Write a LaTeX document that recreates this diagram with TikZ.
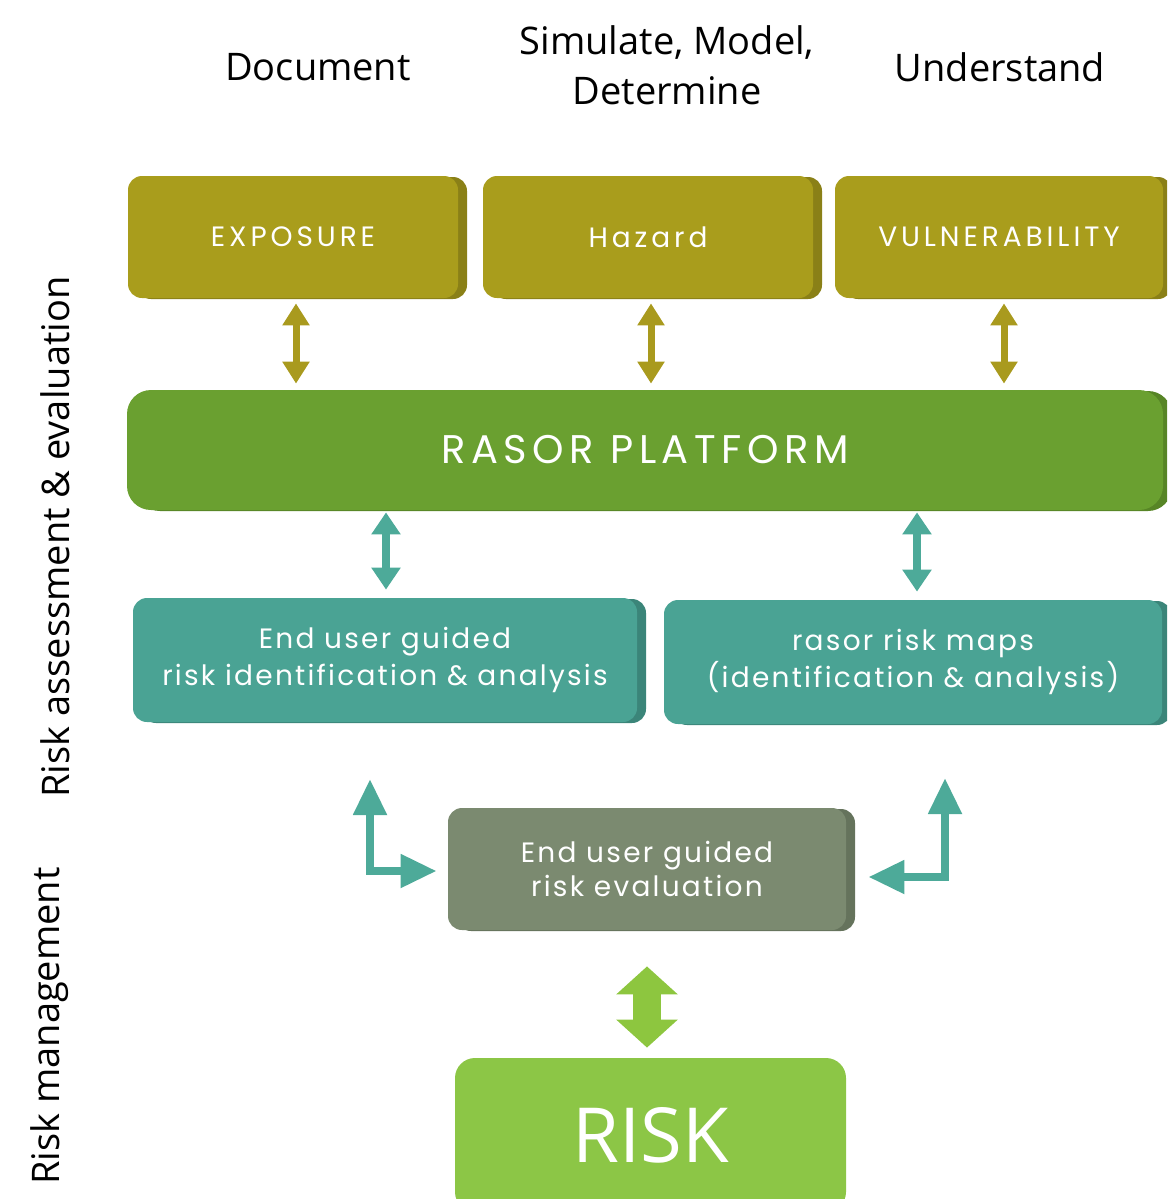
\documentclass[tikz,border=0pt]{standalone}
\usepackage{fontspec}
\setmainfont{Open Sans}
\newfontfamily\boxfont{Poppins}[LetterSpace=8]
\newfontfamily\capsfont{Poppins}[LetterSpace=14]
\usetikzlibrary{arrows.meta,shadows}

\definecolor{olive}{HTML}{A99D1C}
\definecolor{oliveside}{HTML}{8A8017}
\definecolor{platgreen}{HTML}{6AA030}
\definecolor{platside}{HTML}{578526}
\definecolor{teal}{HTML}{4AA394}
\definecolor{tealside}{HTML}{3B8579}
\definecolor{evalgrey}{HTML}{7B8A70}
\definecolor{evalside}{HTML}{65735C}
\definecolor{riskgreen}{HTML}{8CC646}
\definecolor{oarrow}{HTML}{A99A1E}
\definecolor{tarrow}{HTML}{4DAA99}
\definecolor{garrow}{HTML}{8DC63F}

\tikzset{
  slab/.style={rounded corners=7pt, inner sep=0pt, text=white, align=center},
  olivebox/.style={slab, fill=olive,
    general shadow={fill=oliveside, shadow xshift=4.5pt, shadow yshift=-0.5pt}},
  platbox/.style={slab, fill=platgreen, rounded corners=12pt,
    general shadow={fill=platside, shadow xshift=4.5pt, shadow yshift=-0.5pt}},
  tealbox/.style={slab, fill=teal,
    general shadow={fill=tealside, shadow xshift=4.5pt, shadow yshift=-0.5pt}},
  evalbox/.style={slab, fill=evalgrey,
    general shadow={fill=evalside, shadow xshift=4.5pt, shadow yshift=-0.5pt}},
  riskbox/.style={slab, fill=riskgreen, rounded corners=10pt},
  toplabel/.style={font=\capsfont\fontsize{14}{16}\selectfont},
  twolines/.style={font=\boxfont\fontsize{14}{18.5}\selectfont},
  headlabel/.style={font=\fontsize{19}{25}\selectfont, align=center},
  sidelabel/.style={font=\fontsize{19}{22}\selectfont, rotate=90},
  oliveconn/.style={draw=oarrow, line width=3.5pt,
    {Triangle[width=13pt,length=11pt]}-{Triangle[width=13pt,length=11pt]},
    shorten <=2.5pt, shorten >=3pt},
  tealconn/.style={draw=tarrow, line width=4pt,
    {Triangle[width=14pt,length=11pt]}-{Triangle[width=14pt,length=11pt]},
    shorten <=1pt, shorten >=4pt},
  elbowconn/.style={draw=tarrow, line width=4pt,
    {Triangle[width=16pt,length=18pt]}-{Triangle[width=16pt,length=18pt]}},
  riskconn/.style={draw=garrow, line width=14pt,
    {Triangle[width=30pt,length=14pt]}-{Triangle[width=30pt,length=14pt]},
    shorten <=18pt, shorten >=5pt},
}

\begin{document}
\begin{tikzpicture}[x=0.5pt,y=-0.5pt]
\clip (0,0) rectangle (1167,1199);

% column headings
\node[headlabel] (hdoc) at (318,67) {Document};
\node[headlabel] (hsim) at (667,65) {Simulate, Model,\\Determine};
\node[headlabel] (hund) at (1000,67) {Understand};

% side labels
\node[sidelabel] (lassess) at (55,537) {Risk assessment \& evaluation};
\node[sidelabel] (lmanage) at (50,1026) {Risk management};

% top row
\node[olivebox, toplabel, minimum width=165pt, minimum height=61pt]
  (exp) at (293,237) {EXPOSURE};
\node[olivebox, toplabel, minimum width=165pt, minimum height=61pt]
  (haz) at (648,237) {Hazard};
\node[olivebox, toplabel, minimum width=164pt, minimum height=61pt]
  (vul) at (999,237) {VULNERABILITY};

% platform
\node[platbox, minimum width=518pt, minimum height=60pt,
  font=\capsfont\fontsize{20}{22}\selectfont] (plat) at (645,450) {RASOR PLATFORM};

% analysis row
\node[tealbox, twolines, minimum width=252pt, minimum height=62pt]
  (guided) at (385,660) {End user guided\\risk identification \& analysis};
\node[tealbox, twolines, minimum width=249pt, minimum height=62pt]
  (maps) at (913,662) {rasor risk maps\\(identification \& analysis)};

% evaluation
\node[evalbox, twolines, minimum width=199pt, minimum height=61pt,
  font=\boxfont\fontsize{14}{17}\selectfont] (eval) at (647,869)
  {End user guided\\risk evaluation};

% risk
\node[riskbox, minimum width=195.5pt, minimum height=77pt,
  font=\fontsize{38}{40}\selectfont] (risk) at (650.5,1135) {RISK};

% connectors
\draw[oliveconn] ([xshift=1.5pt]exp.south) -- ([xshift=1.5pt]exp.south |- plat.north);
\draw[oliveconn] ([xshift=1.5pt]haz.south) -- ([xshift=1.5pt]haz.south |- plat.north);
\draw[oliveconn] ([xshift=2.5pt]vul.south) -- ([xshift=2.5pt]vul.south |- plat.north);

\draw[tealconn] ([xshift=0.5pt]plat.south -| guided.north) -- ([xshift=0.5pt]guided.north);
\draw[tealconn] ([xshift=2pt]plat.south -| maps.north) -- ([xshift=2pt]maps.north);

\coordinate (lup) at (370,779);
\coordinate (rup) at (945,778);
\draw[elbowconn] (lup) |- ([xshift=-5.5pt,yshift=-1pt]eval.west);
\draw[elbowconn] (rup) |- ([xshift=11pt,yshift=-4pt]eval.east);

\draw[riskconn] (eval.south) -- (eval.south |- risk.north);
\end{tikzpicture}
\end{document}
